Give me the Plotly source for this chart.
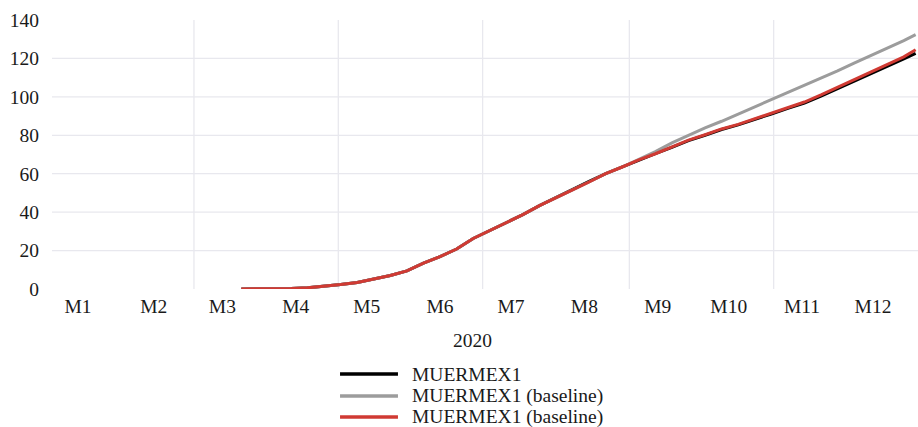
import plotly.graph_objects as go

# ---- data (thousands) ----
dates = ["2020-03-21", "2020-03-28", "2020-04-04", "2020-04-11", "2020-04-18", "2020-04-25",
         "2020-05-02", "2020-05-09", "2020-05-16", "2020-05-23", "2020-05-30", "2020-06-06",
         "2020-06-13", "2020-06-20", "2020-06-27", "2020-07-04", "2020-07-11", "2020-07-18",
         "2020-07-25", "2020-08-01", "2020-08-08", "2020-08-15", "2020-08-22", "2020-08-29",
         "2020-09-05", "2020-09-12", "2020-09-19", "2020-09-26", "2020-10-03", "2020-10-10",
         "2020-10-17", "2020-10-24", "2020-10-31", "2020-11-07", "2020-11-14", "2020-11-21",
         "2020-11-28", "2020-12-05", "2020-12-12", "2020-12-19", "2020-12-26", "2020-12-31"]

actual = [0.0, 0.02, 0.09, 0.27, 0.6, 1.3,
          2.3, 3.4, 5.0, 7.0, 9.4, 13.5,
          16.9, 20.8, 26.3, 30.4, 34.7, 38.7,
          43.4, 47.7, 51.6, 56.0, 60.0, 63.5,
          67.2, 70.4, 73.7, 77.2, 80.0, 83.0,
          85.4, 88.1, 91.1, 94.0, 96.8, 100.4,
          104.2, 108.2, 112.2, 116.0, 119.8, 122.6]

baseline_a = [0.0, 0.02, 0.09, 0.27, 0.6, 1.3,
              2.3, 3.4, 5.0, 7.0, 9.4, 13.5,
              16.9, 20.8, 26.3, 30.4, 34.7, 38.7,
              43.4, 47.7, 51.6, 55.7, 60.0, 63.5,
              67.5, 71.5, 76.0, 80.0, 83.8, 87.3,
              91.0, 94.7, 98.5, 102.3, 105.8, 109.8,
              113.5, 117.5, 121.4, 125.2, 129.3, 132.4]

baseline_b = [0.0, 0.02, 0.09, 0.27, 0.6, 1.3,
              2.3, 3.4, 5.0, 7.0, 9.4, 13.5,
              16.9, 20.8, 26.3, 30.4, 34.7, 38.7,
              43.4, 47.7, 51.6, 55.7, 60.0, 63.5,
              67.2, 70.4, 74.0, 77.5, 80.3, 83.3,
              85.7, 88.5, 91.5, 94.5, 97.3, 101.0,
              105.0, 109.0, 113.0, 116.8, 120.8, 124.5]

series_names = ["MUERMEX1", "MUERMEX1 (baseline)", "MUERMEX1 (baseline)"]
series_values = [actual, baseline_a, baseline_b]
series_colors = ["#000000", "#9c9c9c", "#d03a33"]

month_tick_dates = ["2020-01-12", "2020-02-13", "2020-03-13", "2020-04-13", "2020-05-13", "2020-06-13",
                    "2020-07-13", "2020-08-13", "2020-09-13", "2020-10-13", "2020-11-13", "2020-12-13"]
month_tick_labels = ["M1", "M2", "M3", "M4", "M5", "M6", "M7", "M8", "M9", "M10", "M11", "M12"]
x_grid_dates = ["2020-03-01", "2020-05-01", "2020-07-01", "2020-09-01", "2020-11-01"]
y_ticks = [0, 20, 40, 60, 80, 100, 120, 140]
y_grid = [20, 40, 60, 80, 100, 120]

FONT = "Liberation Serif"
FS = 19.5
GRID = "#e8e8ee"
TXT = "#1a1a1a"

fig = go.Figure()
for name, vals, col in zip(series_names, series_values, series_colors):
    fig.add_trace(go.Scatter(x=dates, y=vals, name=name, mode="lines",
                             line=dict(color=col, width=3), showlegend=False))

shapes = []
for d in x_grid_dates:
    shapes.append(dict(type="line", xref="x", yref="paper", x0=d, x1=d, y0=0, y1=1,
                       line=dict(color=GRID, width=1.3), layer="below"))
for v in y_grid:
    shapes.append(dict(type="line", xref="paper", yref="y", x0=0, x1=1, y0=v, y1=v,
                       line=dict(color=GRID, width=1.3), layer="below"))

# manual legend (centred block below the axis)
annotations = [dict(text="2020", xref="paper", yref="paper", x=0.486, y=-0.19,
                    xanchor="center", yanchor="middle", showarrow=False,
                    font=dict(family=FONT, size=FS, color=TXT))]
leg_y = [-0.316, -0.398, -0.476]
for name, col, yy in zip(series_names, series_colors, leg_y):
    shapes.append(dict(type="line", xref="paper", yref="paper", x0=0.3326, x1=0.3995,
                       y0=yy, y1=yy, line=dict(color=col, width=3.5)))
    annotations.append(dict(text=name, xref="paper", yref="paper", x=0.4134, y=yy,
                            xanchor="left", yanchor="middle", showarrow=False,
                            font=dict(family=FONT, size=FS, color=TXT)))

fig.update_layout(
    width=918, height=427,
    margin=dict(l=52, r=0, t=20, b=138),
    paper_bgcolor="white", plot_bgcolor="white",
    font=dict(family=FONT, size=FS, color=TXT),
    shapes=shapes, annotations=annotations,
    xaxis=dict(type="date", range=["2020-01-01", "2021-01-01"], tickmode="array",
               tickvals=month_tick_dates, ticktext=month_tick_labels,
               showgrid=False, zeroline=False, showline=False, ticks="",
               ticklabelstandoff=3, tickangle=0,
               tickfont=dict(family=FONT, size=FS, color=TXT)),
    yaxis=dict(range=[0, 140], tickmode="array", tickvals=y_ticks,
               showgrid=False, zeroline=False, showline=False, ticks="",
               ticklabelstandoff=12,
               tickfont=dict(family=FONT, size=FS, color=TXT)),
)

fig.write_html("out.html")
